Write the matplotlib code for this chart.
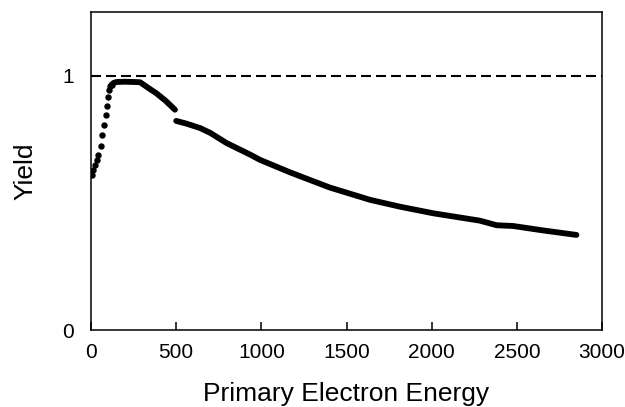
import matplotlib
matplotlib.use("Agg")
import matplotlib.pyplot as plt

plt.rcParams['font.family'] = ['Liberation Sans', 'DejaVu Sans']

# sparse rising dots (low energy)
energy_rise = [6, 14, 23, 33, 43, 57, 66, 76, 86, 92, 98, 106, 114, 121]
yield_rise = [0.610, 0.630, 0.650, 0.670, 0.689, 0.722, 0.765, 0.804, 0.846, 0.879, 0.915, 0.945, 0.958, 0.965]

# dense part up to the step near 500
energy_hi = [121, 135, 151, 200, 250, 288, 340, 385, 440, 493]
yield_hi = [0.965, 0.972, 0.975, 0.976, 0.975, 0.974, 0.950, 0.930, 0.900, 0.866]

# dense part after the step
energy_lo = [500, 562, 640, 700, 796, 933, 992, 1168, 1285, 1403, 1579, 1637,
             1813, 2009, 2283, 2381, 2479, 2650, 2850]
yield_lo = [0.822, 0.811, 0.794, 0.775, 0.735, 0.690, 0.669, 0.620, 0.590, 0.560, 0.524, 0.512,
            0.485, 0.459, 0.430, 0.412, 0.409, 0.392, 0.374]

fig = plt.figure(figsize=(6.25, 4.07), dpi=100)
ax = fig.add_axes([0.1456, 0.189, 0.8176, 0.7815])

ax.axhline(1.0, color='black', lw=1.5, dashes=(4.8, 2.4))

ax.plot(energy_rise, yield_rise, 'o', color='black', ms=4.6, mew=0)
ax.plot(energy_hi, yield_hi, '-', color='black', lw=4.2, solid_capstyle='round')
ax.plot(energy_lo, yield_lo, '-', color='black', lw=4.2, solid_capstyle='round')

ax.set_xlim(0, 3000)
ax.set_ylim(0, 1.25)
ax.set_xticks([0, 500, 1000, 1500, 2000, 2500, 3000])
ax.set_yticks([0, 1])
ax.tick_params(axis='x', direction='in', length=5.5, width=1.1, labelsize=15, pad=9)
ax.tick_params(axis='y', length=0, labelsize=15, pad=12)
for s in ax.spines.values():
    s.set_linewidth(1.1)

ax.set_xlabel('Primary Electron Energy', fontsize=19, labelpad=15)
ax.set_ylabel('Yield', fontsize=19, labelpad=18)

fig.savefig('out.png', dpi=100)
